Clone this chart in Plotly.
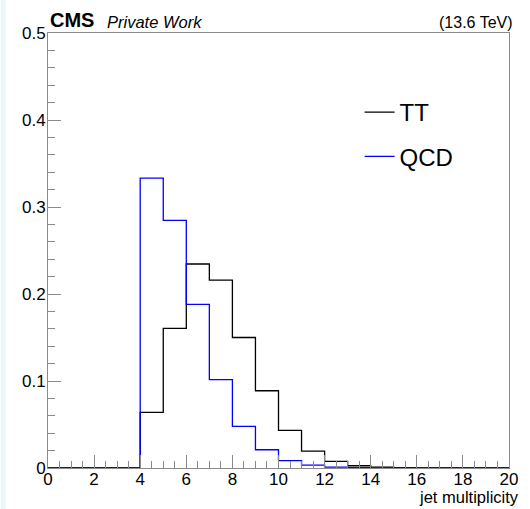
import plotly.graph_objects as go

# Normalised jet-multiplicity distributions, one value per unit-width bin (0..20)
bin_edges = list(range(0, 21))
tt_values = [0, 0, 0, 0, 0.064, 0.1605, 0.2345, 0.216, 0.150, 0.0888,
             0.0432, 0.0195, 0.0076, 0.0026, 0.0010, 0.0004, 0, 0, 0, 0]
qcd_values = [0, 0, 0, 0, 0.3333, 0.2846, 0.188, 0.1015, 0.0478, 0.021,
              0.0084, 0.0034, 0.0011, 0.0005, 0.0002, 0, 0, 0, 0, 0]

x_ticks = [0, 2, 4, 6, 8, 10, 12, 14, 16, 18, 20]
y_ticks = [0, 0.1, 0.2, 0.3, 0.4, 0.5]
y_tick_text = ["0", "0.1", "0.2", "0.3", "0.4", "0.5"]

FONT = "Liberation Sans"
W, H = 530, 509
L, R, T, B = 48, 13, 33, 41
PW = W - L - R
PH = H - T - B


def step(values):
    # repeat the last bin so the 'hv' step covers the final bin width
    return bin_edges, list(values) + [values[-1]]


fig = go.Figure()
for name, vals, color, grp in [("TT", tt_values, "#000000", "tt"),
                               ("QCD", qcd_values, "#0000ff", "qcd")]:
    xs, ys = step(vals)
    fig.add_trace(go.Scatter(
        x=xs, y=ys, mode="lines", name=name, legendgroup=grp,
        line=dict(color=color, width=1.3, shape="hv"),
    ))

axis_common = dict(
    showgrid=False, zeroline=False, showline=True, mirror=True,
    linecolor="#8a8a8a", linewidth=1,
    ticks="inside", tickcolor="#8a8a8a", tickwidth=1, ticklen=13,
    tickfont=dict(family=FONT, size=17, color="#000000"),
)

fig.update_xaxes(
    range=[0, 20], tickvals=x_ticks, ticktext=[str(v) for v in x_ticks],
    minor=dict(dtick=0.5, ticks="inside", ticklen=7, tickcolor="#8a8a8a"),
    ticklabelstandoff=-4,
    **axis_common,
)
fig.update_yaxes(
    range=[0, 0.5], tickvals=y_ticks, ticktext=y_tick_text,
    minor=dict(dtick=0.02, ticks="inside", ticklen=7, tickcolor="#8a8a8a"),
    ticklabelstandoff=-2,
    **axis_common,
)

fig.update_layout(
    width=W, height=H,
    margin=dict(l=L, r=R, t=T, b=B),
    paper_bgcolor="#ffffff", plot_bgcolor="#ffffff",
    showlegend=True,
    legend=dict(
        x=(365 - L) / PW, y=1 - (90 - T) / PH, xanchor="left", yanchor="top",
        bgcolor="rgba(0,0,0,0)", borderwidth=0,
        font=dict(family=FONT, size=24, color="#000000"),
        tracegroupgap=10, itemwidth=30,
    ),
    annotations=[
        dict(text="<b>CMS</b>", x=0, y=1, xref="paper", yref="paper",
             xanchor="left", yanchor="bottom", showarrow=False,
             font=dict(family=FONT, size=20, color="#000000")),
        dict(text="<i>Private Work</i>", x=(106 - L) / PW, y=1, xref="paper", yref="paper",
             xanchor="left", yanchor="bottom", showarrow=False,
             font=dict(family=FONT, size=16.5, color="#000000")),
        dict(text="(13.6 TeV)", x=1, y=1, xref="paper", yref="paper",
             xanchor="right", yanchor="bottom", xshift=6, showarrow=False,
             font=dict(family=FONT, size=16, color="#000000")),
        dict(text="jet multiplicity", x=1, y=0, xref="paper", yref="paper",
             xanchor="right", yanchor="top", xshift=11, yshift=-19, borderpad=0,
             showarrow=False,
             font=dict(family=FONT, size=16.5, color="#000000")),
    ],
    shapes=[
        dict(type="rect", xref="paper", yref="paper",
             x0=-L / PW, x1=(5 - L) / PW, y0=-B / PH, y1=1 + T / PH,
             fillcolor="#eaf8fd", line=dict(width=0), layer="below"),
    ],
)

fig.write_html("out.html")
